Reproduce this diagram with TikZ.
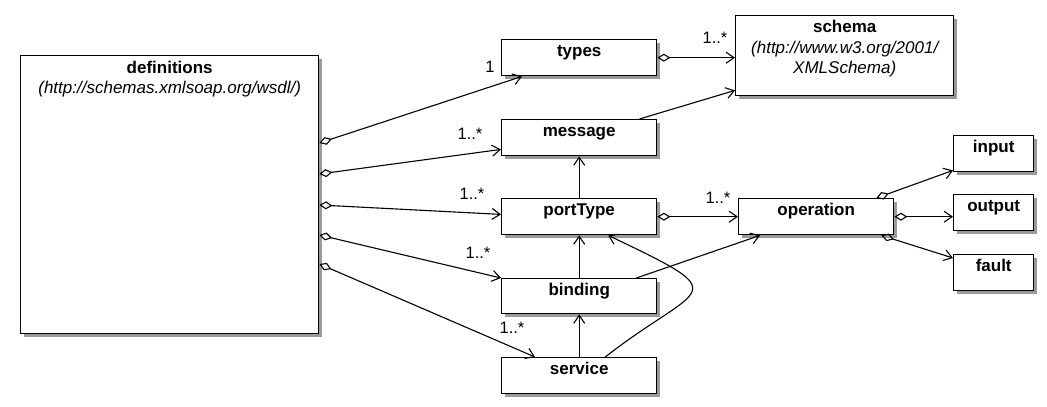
\documentclass[tikz,border=0pt]{standalone}
\usepackage{fontspec}
\setmainfont{Liberation Sans}
\usetikzlibrary{arrows.meta,shadows}
\definecolor{wsdlShade}{HTML}{9A9A9A}
\tikzset{
  wsdlbox/.style={draw,line width=1.4pt,fill=white,inner sep=0pt,
                  anchor=north west,align=center,text height=17pt,
                  text depth=19pt,minimum width=155pt,
                  font=\fontsize{17}{20.5}\selectfont\bfseries,
                  drop shadow={shadow xshift=3pt,shadow yshift=-3pt,
                               fill=wsdlShade,opacity=1}},
  wsdlagg/.style={{Diamond[open,length=13pt,width=8pt]}-{Straight Barb[length=8pt,width=11pt]},
                  line width=1.1pt},
  wsdldep/.style={-{Straight Barb[length=8pt,width=11pt]},line width=1.1pt},
  wsdlmult/.style={font=\fontsize{16.5}{18}\selectfont,inner sep=0pt}
}
\begin{document}
\begin{tikzpicture}[x=1pt,y=-1pt]
  \useasboundingbox (0,0) rectangle (1047,407);

  % classes
  \node[wsdlbox,minimum width=298pt,text height=38pt,text depth=240pt] (defs) at (20,55)
    {definitions\\{\mdseries\itshape (http://schemas.xmlsoap.org/wsdl/)}};
  \node[wsdlbox] (types) at (501,39) {types};
  \node[wsdlbox] (message) at (501,119) {message};
  \node[wsdlbox] (portType) at (501,198) {portType};
  \node[wsdlbox,text depth=18pt] (binding) at (501,278) {binding};
  \node[wsdlbox] (service) at (501,357) {service};
  \node[wsdlbox,minimum width=218pt,text height=58pt,text depth=22pt] (schema) at (735,15)
    {schema\\{\mdseries\itshape (http://www.w3.org/2001/}\\{\mdseries\itshape XMLSchema)}};
  \node[wsdlbox] (operation) at (738,198) {operation};
  \node[wsdlbox,minimum width=80pt] (input) at (953,135) {input};
  \node[wsdlbox,minimum width=80pt] (output) at (953,194) {output};
  \node[wsdlbox,minimum width=80pt] (fault) at (953,254) {fault};

  % aggregations from definitions
  \draw[wsdlagg] ([yshift=-88pt]defs.north east) -- ([xshift=21pt]types.south west);
  \draw[wsdlagg] ([yshift=-119pt]defs.north east) -- ([yshift=7pt]message.south west);
  \draw[wsdlagg] ([yshift=-150pt]defs.north east) -- ([yshift=21pt]portType.south west);
  \draw[wsdlagg] ([yshift=-180pt]defs.north east) -- (binding.north west);
  \draw[wsdlagg] ([yshift=-209pt]defs.north east) -- ([xshift=34pt]service.north west);

  % other links
  \draw[wsdlagg] (types.east) -- (types.east -| schema.west);
  \draw[wsdldep] ([xshift=-18pt]message.north east) -- ([yshift=6pt]schema.south west);
  \draw[wsdldep] (portType.north) -- (message.south);
  \draw[wsdlagg] (portType.east) -- (operation.west);
  \draw[wsdldep] (binding.north) -- (portType.south);
  \draw[wsdldep] ([xshift=-21pt]binding.north east) -- ([xshift=22pt]operation.south west);
  \draw[wsdldep] (service.north) -- (binding.south);
  \draw[wsdldep] ([xshift=26pt]service.north) .. controls (700,283) and (740,298)
    .. ([xshift=29pt]portType.south);
  \draw[wsdlagg] ([xshift=-18pt]operation.north east) -- ([yshift=2pt]input.south west);
  \draw[wsdlagg] (operation.east) -- (operation.east -| output.west);
  \draw[wsdlagg] ([xshift=-13pt]operation.south east) -- ([yshift=-4pt]fault.north west);

  % multiplicities
  \node[wsdlmult] (mTypes) at (490,67) {1};
  \node[wsdlmult] (mMessage) at (470,134) {1..*};
  \node[wsdlmult] (mPortType) at (472,194) {1..*};
  \node[wsdlmult] (mBinding) at (478,253) {1..*};
  \node[wsdlmult] (mService) at (512,328) {1..*};
  \node[wsdlmult] (mSchema) at (715,38) {1..*};
  \node[wsdlmult] (mOperation) at (718,198) {1..*};
\end{tikzpicture}
\end{document}
